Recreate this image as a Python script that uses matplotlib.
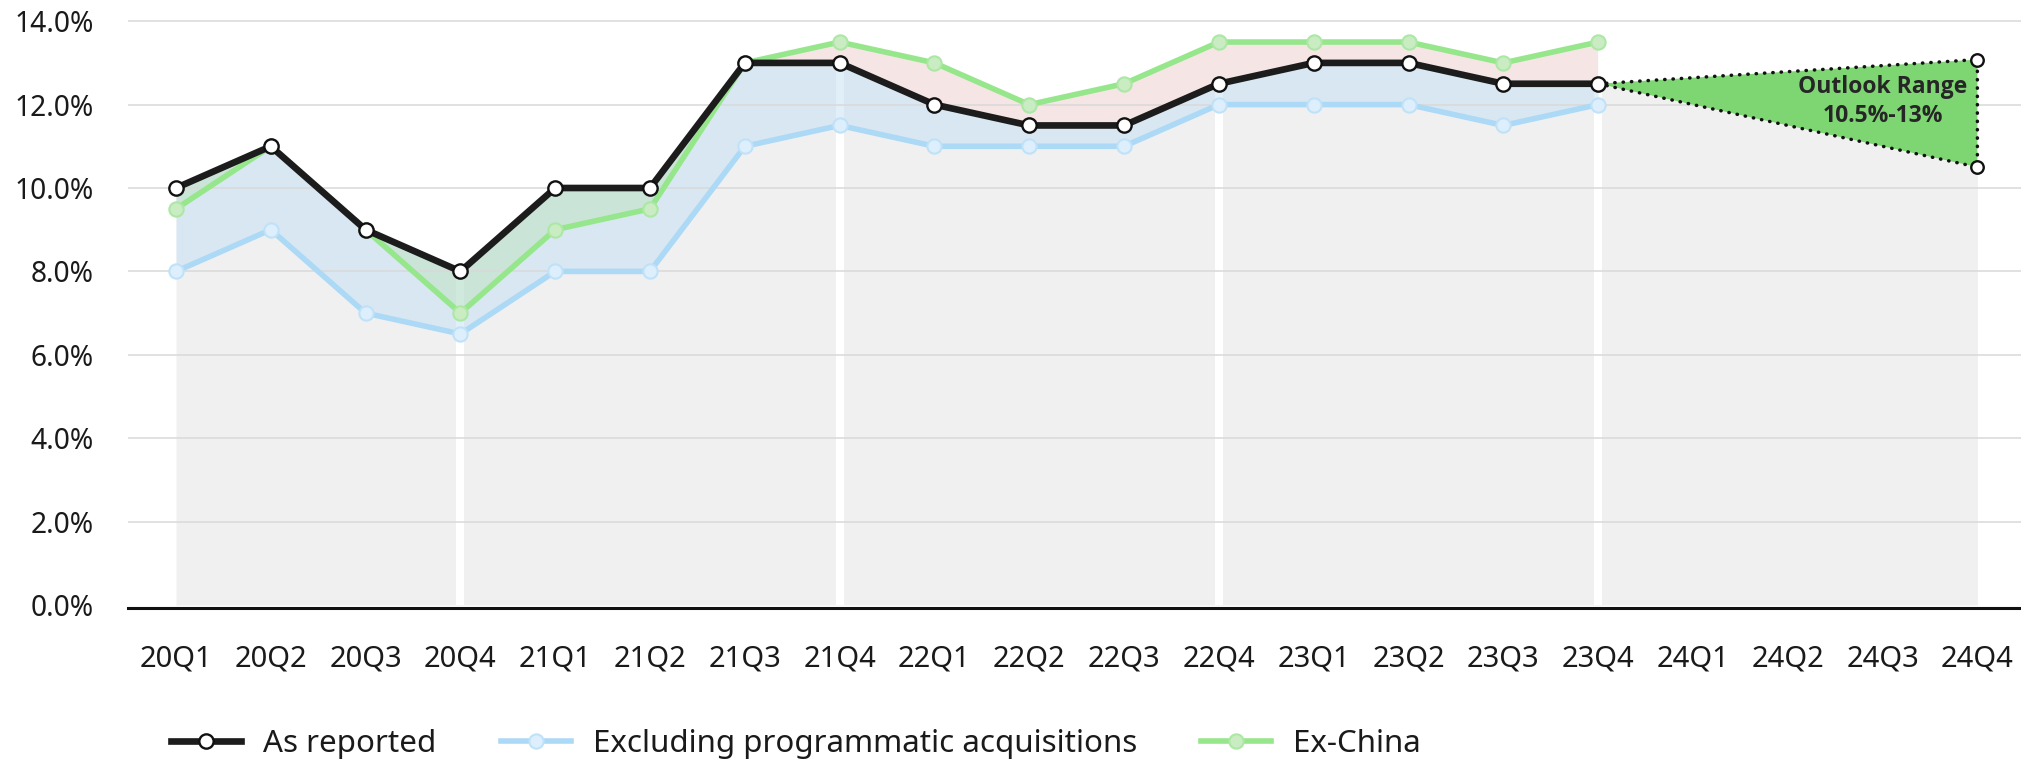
import matplotlib
matplotlib.use("Agg")
import matplotlib.pyplot as plt
from matplotlib.lines import Line2D
from matplotlib.ticker import FuncFormatter
import numpy as np

plt.rcParams['font.family'] = ['Noto Sans', 'DejaVu Sans']

quarters = ["20Q1", "20Q2", "20Q3", "20Q4", "21Q1", "21Q2", "21Q3", "21Q4",
            "22Q1", "22Q2", "22Q3", "22Q4", "23Q1", "23Q2", "23Q3", "23Q4",
            "24Q1", "24Q2", "24Q3", "24Q4"]
as_reported = [10.0, 11.0, 9.0, 8.0, 10.0, 10.0, 13.0, 13.0, 12.0, 11.5, 11.5,
               12.5, 13.0, 13.0, 12.5, 12.5]
excl_prog = [8.0, 9.0, 7.0, 6.5, 8.0, 8.0, 11.0, 11.5, 11.0, 11.0, 11.0, 12.0,
             12.0, 12.0, 11.5, 12.0]
ex_china = [9.5, 11.0, 9.0, 7.0, 9.0, 9.5, 13.0, 13.5, 13.0, 12.0, 12.5, 13.5,
            13.5, 13.5, 13.0, 13.5]
outlook_high = 13.08
outlook_low = 10.5
year_breaks = ["20Q4", "21Q4", "22Q4", "23Q4"]
y_ticks = [0, 2, 4, 6, 8, 10, 12, 14]

W, H = 2021, 762
fig = plt.figure(figsize=(W / 100, H / 100), dpi=100)
zero_px = 605.0
per_pct = 41.7
top_val = 14.35
ax_bottom = (H - zero_px) / H
ax_top = (H - (zero_px - top_val * per_pct)) / H
ax = fig.add_axes([128 / W, ax_bottom, 1 - 128 / W, ax_top - ax_bottom])

n = len(as_reported)
x = np.arange(n)
ar = np.array(as_reported)
ep = np.array(excl_prog)
ec = np.array(ex_china)
last = quarters.index("23Q4")
end = quarters.index("24Q4")

# gray background area
ax.fill_between(x, 0, ar, color='#f0f0f0', lw=0, zorder=0.5)
ax.fill_between([last, end], 0, [ar[last], outlook_low], color='#f0f0f0', lw=0, zorder=0.5)
# white year separators
for q in year_breaks:
    i = quarters.index(q)
    ax.vlines(i, 0, ar[i], color='white', lw=5.8, zorder=0.6)

# band fills
ax.fill_between(x, ep, ar, color='#c4e0f5', alpha=0.5, lw=0, zorder=1)
ax.fill_between(x, ec, ar, where=ec <= ar, interpolate=True, color='#a8e09a',
                alpha=0.3, lw=0, zorder=1.1)
ax.fill_between(x, ar, ec, where=ec >= ar, interpolate=True, color='#f6e5e5',
                lw=0, zorder=1.1)

# grid
for t in y_ticks[1:]:
    ax.axhline(t, color='#d9d9d9', lw=1.1, zorder=1.5)

# outlook triangle
tri_x = [last, end, end, last]
tri_y = [ar[last], outlook_high, outlook_low, ar[last]]
ax.fill(tri_x[:3], tri_y[:3], color='#7dd672', lw=0, zorder=2)
ax.plot(tri_x, tri_y, color='#111111', lw=2.5, dashes=(0.1, 2.3),
        dash_capstyle='round', zorder=2.1)
ax.plot([end, end], [outlook_high, outlook_low], ls='none', marker='o', ms=9,
        mfc='white', mec='#111111', mew=1.7, zorder=6)
ax.text(end - 1.0, 12.07, "Outlook Range\n10.5%-13%",
        ha='center', va='center', fontsize=16.5, fontweight='bold', color='#262626',
        family=['Open Sans', 'DejaVu Sans'], linespacing=1.3, zorder=7)

# lines
blue_kw = dict(color='#acd9f5', lw=4.0, marker='o', ms=10.3, mfc='#ddeefc', mec='#bfe2f8', mew=1.5)
green_kw = dict(color='#96e68c', lw=4.0, marker='o', ms=10.3, mfc='#c9ecc3', mec='#ace8a4', mew=1.5)
black_kw = dict(color='#1c1c1c', lw=4.8, marker='o', ms=10.3, mfc='white', mec='#111111', mew=1.7)
ax.plot(x, ep, zorder=3, **blue_kw)
ax.plot(x, ec, zorder=4, **green_kw)
ax.plot(x, ar, zorder=5, **black_kw)

ax.set_xlim(-0.506, 19.46)
ax.set_ylim(0, top_val)
ax.set_xticks(range(len(quarters)))
ax.set_xticklabels(quarters)
ax.set_yticks(y_ticks)
ax.yaxis.set_major_formatter(FuncFormatter(lambda v, p: f"{v:.1f}%"))
ax.tick_params(axis='both', length=0, colors='#1a1a1a')
ax.tick_params(axis='x', pad=26, labelsize=21)
ax.tick_params(axis='y', pad=24.5, labelsize=20.3)
for s in ['top', 'right', 'left']:
    ax.spines[s].set_visible(False)
ax.spines['bottom'].set_position(('outward', 2.5))
ax.spines['bottom'].set_color('#111111')
ax.spines['bottom'].set_linewidth(2.2)
ax.set_facecolor('none')

handles = [Line2D([], [], **black_kw), Line2D([], [], **blue_kw), Line2D([], [], **green_kw)]
labels = ["As reported", "Excluding programmatic acquisitions", "Ex-China"]
fig.legend(handles, labels, loc='center left', bbox_to_anchor=(171 / W, 1 - 744 / H),
           ncol=3, frameon=False, fontsize=22.5, handlelength=2.25, handletextpad=0.7,
           columnspacing=2.05, borderpad=0, borderaxespad=0, labelcolor='#1a1a1a')

fig.savefig("out.png", dpi=100)
